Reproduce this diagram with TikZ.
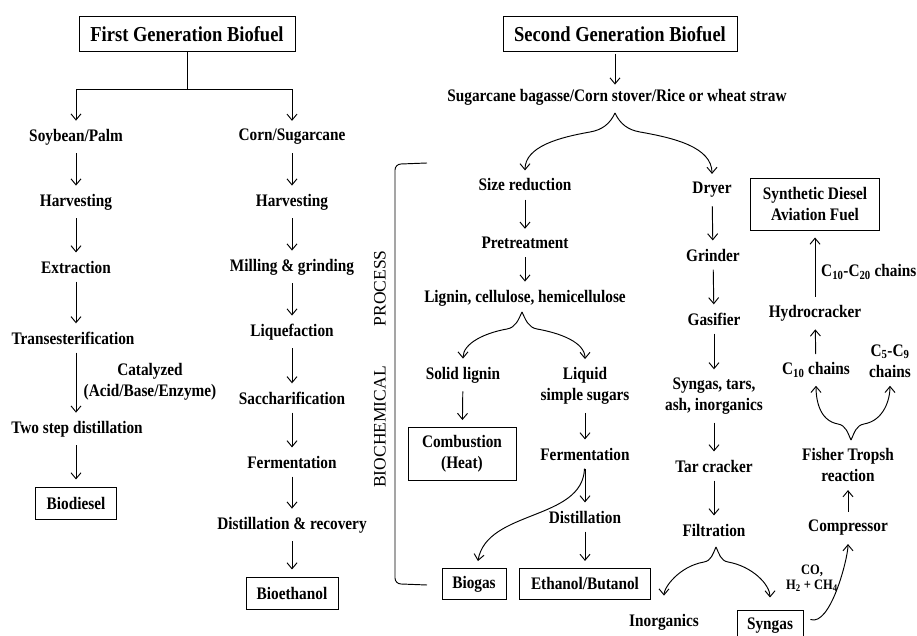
\documentclass[tikz,border=0pt]{standalone}
\usepackage{fontspec}
\setmainfont{Liberation Serif}
\usepackage{tikz}
\usetikzlibrary{arrows.meta}
\newcommand{\flowfont}{\fontsize{15.3}{18.3}\selectfont\bfseries}
\newcommand{\gentitlefont}{\fontsize{18.5}{20}\selectfont\bfseries}
\newcommand{\smallflowfont}{\fontsize{12.5}{13}\selectfont\bfseries}

\begin{document}
\begin{tikzpicture}[x=1pt, y=1pt,
        txt/.style={font=\flowfont, align=center, inner sep=1pt, yscale=1.15},
        bx/.style={txt, draw, line width=0.9pt},
        plain/.style={line width=0.95pt},
        flow/.style={plain, -{Straight Barb[length=6pt,width=10pt]}, shorten <=7pt, shorten >=7pt},
        brace/.style={flow, shorten <=0pt}]
        \useasboundingbox (0,0) rectangle (917,636);

        \node [bx, font=\gentitlefont, minimum width=216, minimum height=30.4] (gen1) at (187,602) {First Generation Biofuel};
        \coordinate (split) at (187,547);
        \node [txt] (soy) at (76,499) {Soybean/Palm};
        \node [txt] (soyharv) at (76,434) {Harvesting};
        \node [txt] (extr) at (76,369) {Extraction};
        \node [txt] (trans) at (73,298) {Transesterification};
        \node [txt] (cat) at (150,254) {Catalyzed\\(Acid/Base/Enzyme)};
        \node [txt] (twostep) at (77,207) {Two step distillation};
        \node [bx, minimum width=81, minimum height=27.8] (biodiesel) at (76,133) {Biodiesel};

        \node [txt] (corn) at (292,499) {Corn/Sugarcane};
        \node [txt] (cornharv) at (292,434) {Harvesting};
        \node [txt] (mill) at (292,369) {Milling \& grinding};
        \node [txt] (liq) at (292,304) {Liquefaction};
        \node [txt] (sacch) at (292,238) {Saccharification};
        \node [txt] (ferm) at (292,174) {Fermentation};
        \node [txt] (distrec) at (292,111) {Distillation \& recovery};
        \node [bx, minimum width=92, minimum height=27.8] (bioeth) at (292,43) {Bioethanol};

        \draw [plain] (gen1) -- (split);
        \draw [flow, shorten <=0pt] (split) -| (soy);
        \draw [flow, shorten <=0pt] (split) -| (corn);
        \draw [flow] (soy) -- (soyharv);
        \draw [flow] (soyharv) -- (extr);
        \draw [flow] (extr) -- (trans.north -| extr);
        \draw [flow] (trans.south -| extr) -- (twostep.north -| extr);
        \draw [flow] (twostep.south -| biodiesel) -- (biodiesel);
        \draw [flow] (corn) -- (cornharv);
        \draw [flow] (cornharv) -- (mill);
        \draw [flow] (mill) -- (liq);
        \draw [flow] (liq) -- (sacch);
        \draw [flow] (sacch) -- (ferm);
        \draw [flow] (ferm) -- (distrec);
        \draw [flow] (distrec) -- (bioeth);

        \node [bx, font=\gentitlefont, minimum width=234, minimum height=30.4] (gen2) at (620,602) {Second Generation Biofuel};
        \node [txt] (sugar) at (617,539) {Sugarcane bagasse/Corn stover/Rice or wheat straw};
        \coordinate (sugcusp) at (615,523);
        \node [txt] (size) at (525,451) {Size reduction};
        \node [txt] (pretreat) at (525,393) {Pretreatment};
        \node [txt] (lignin) at (525,338) {Lignin, cellulose, hemicellulose};
        \coordinate (ligcusp) at (522,324);
        \node [txt] (solid) at (463,261) {Solid lignin};
        \node [txt] (liquid) at (585,250) {Liquid\\simple sugars};
        \node [bx, minimum width=108, minimum height=46] (comb) at (462,182) {Combustion\\(Heat)};
        \node [txt] (ferm2) at (585,182) {Fermentation};
        \node [txt] (dist2) at (585,119) {Distillation};
        \node [bx, minimum width=64, minimum height=27] (biogas) at (474,52) {Biogas};
        \node [bx, minimum width=131, minimum height=27] (ethanol) at (585,52) {Ethanol/Butanol};

        \node [txt] (dryer) at (712,446) {Dryer};
        \node [txt] (grind) at (713,381) {Grinder};
        \node [txt] (gasif) at (714,317) {Gasifier};
        \node [txt] (syntar) at (714,240) {Syngas, tars,\\ash, inorganics};
        \node [txt] (tar) at (714,170) {Tar cracker};
        \node [txt] (filt) at (714,106) {Filtration};
        \coordinate (filtcusp) at (716,89);
        \node [txt] (inorg) at (664,14) {Inorganics};
        \node [bx, minimum width=66, minimum height=27.8] (syngas) at (770,10) {Syngas};
        \coordinate (sgout) at ([xshift=7pt,yshift=-10pt]syngas.north east);

        \node [bx, minimum width=129, minimum height=45.2] (fuel) at (815,432) {Synthetic Diesel\\Aviation Fuel};
        \node [txt, anchor=west] (c1020) at (820,364) {C\textsubscript{10}-C\textsubscript{20} chains};
        \node [txt] (hydro) at (815,323) {Hydrocracker};
        \node [txt] (c10) at (816,266) {C\textsubscript{10} chains};
        \node [txt] (c59) at (890,275) {C\textsubscript{5}-C\textsubscript{9}\\chains};
        \node [txt] (fisher) at (848,171) {Fisher Tropsh\\reaction};
        \coordinate (ftcusp) at (851,196);
        \node [txt] (comp) at (848,108) {Compressor};
        \node [txt, font=\smallflowfont] (colbl) at (812,58) {CO,\\H\textsubscript{2} + CH\textsubscript{4}};

        \draw [plain] (427,473) -- (401,472) to[out=180,in=90] (395,466) -- (395,58) to[out=-90,in=180] (401,52) -- (427,51);
        \node [rotate=90, font=\fontsize{17.5}{20}\selectfont, inner sep=0pt] (bioproc) at (380,267) {BIOCHEMICAL\hspace{40pt}PROCESS};

        \draw [flow, shorten <=2pt, shorten >=3pt] (gen2.south -| sugcusp) -- (sugar.north -| sugcusp);
        \draw [brace] (sugcusp) to[out=-115,in=10] ++(-25,-19) to[out=190,in=90] (size);
        \draw [brace] (sugcusp) to[out=-65,in=170] ++(25,-19) to[out=-10,in=90] (dryer);
        \draw [flow] (size) -- (pretreat);
        \draw [flow] (pretreat) -- (lignin);
        \draw [brace] (ligcusp) to[out=-115,in=10] ++(-15,-17) to[out=190,in=90] (solid);
        \draw [brace] (ligcusp) to[out=-65,in=170] ++(15,-17) to[out=-10,in=90] (liquid);
        \draw [flow] (solid) -- (comb);
        \draw [flow] (liquid) -- (ferm2);
        \draw [flow] (ferm2) to[out=-92,in=80] (biogas);
        \draw [flow] (ferm2) -- (dist2);
        \draw [flow] (dist2) -- (ethanol);

        \draw [flow] (dryer) -- (grind);
        \draw [flow] (grind) -- (gasif);
        \draw [flow] (gasif) -- (syntar);
        \draw [flow] (syntar) -- (tar);
        \draw [flow] (tar) -- (filt);
        \draw [brace, shorten >=17pt] (filtcusp) to[out=-115,in=10] ++(-12,-15) to[out=190,in=90] (inorg);
        \draw [brace, shorten >=12pt] (filtcusp) to[out=-65,in=170] ++(12,-15) to[out=-10,in=90] (syngas);
        \draw [brace, looseness=0.6] (sgout) to[out=-20,in=-90] (comp);

        \draw [flow] (comp) -- (fisher);
        \draw [brace] (ftcusp) to[out=115,in=-10] ++(-13,16) to[out=170,in=-90] (c10);
        \draw [brace] (ftcusp) to[out=65,in=190] ++(13,16) to[out=10,in=-90] (c59);
        \draw [flow] (c10) -- (hydro);
        \draw [flow] (hydro) -- (fuel);
    \end{tikzpicture}
\end{document}
